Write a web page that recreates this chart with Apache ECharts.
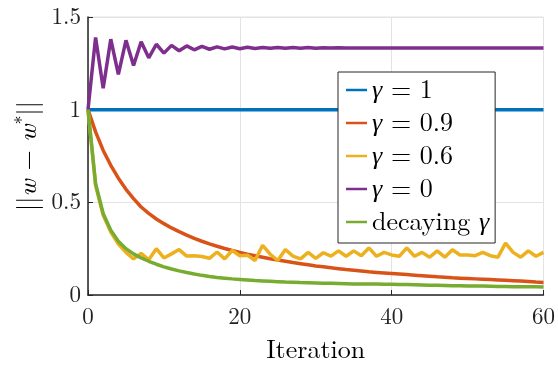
<!DOCTYPE html>
<html>
<head>
<meta charset="utf-8">
<script src="https://cdn.jsdelivr.net/npm/echarts@6/dist/echarts.min.js"></script>
<style>
  html, body { margin: 0; padding: 0; background: #fff; }
  #chart { width: 558px; height: 368px; }
</style>
</head>
<body>
<div id="chart"></div>
<script>
// legend labels (rich text, γ in italic)
const labels = ["{i|γ} = 1", "{i|γ} = 0.9", "{i|γ} = 0.6", "{i|γ} = 0", "decaying {i|γ}"];
const colors = ["#0072BD", "#D95319", "#EDB120", "#7E2F8E", "#77AC30"];

const xTicks = [0, 20, 40, 60];
const yTicks = [0, 0.5, 1, 1.5];

// values read per iteration 0..60
const gamma1 = [
  1, 1, 1, 1, 1, 1, 1, 1, 1, 1, 1, 1, 1, 1, 1, 1, 1, 1, 1, 1, 1,
  1, 1, 1, 1, 1, 1, 1, 1, 1, 1, 1, 1, 1, 1, 1, 1, 1, 1, 1, 1,
  1, 1, 1, 1, 1, 1, 1, 1, 1, 1, 1, 1, 1, 1, 1, 1, 1, 1, 1, 1
];
const gamma09 = [
  1, 0.88, 0.78, 0.70, 0.63, 0.57, 0.52, 0.475, 0.44, 0.41, 0.385,
  0.362, 0.342, 0.323, 0.305, 0.29, 0.276, 0.263, 0.251, 0.24, 0.23,
  0.22, 0.212, 0.204, 0.196, 0.189, 0.182, 0.175, 0.169, 0.163, 0.157,
  0.152, 0.147, 0.142, 0.137, 0.133, 0.129, 0.125, 0.122, 0.119, 0.116,
  0.113, 0.11, 0.107, 0.104, 0.101, 0.098, 0.096, 0.093, 0.091, 0.089,
  0.087, 0.085, 0.083, 0.081, 0.079, 0.077, 0.075, 0.073, 0.07, 0.068
];
const gamma06 = [
  1, 0.59, 0.43, 0.34, 0.275, 0.23, 0.195, 0.225, 0.19, 0.25, 0.2,
  0.222, 0.245, 0.21, 0.212, 0.208, 0.198, 0.232, 0.195, 0.24, 0.212,
  0.215, 0.186, 0.268, 0.22, 0.186, 0.245, 0.21, 0.195, 0.23, 0.198,
  0.228, 0.21, 0.238, 0.209, 0.238, 0.212, 0.254, 0.209, 0.23, 0.216,
  0.209, 0.254, 0.209, 0.23, 0.204, 0.238, 0.204, 0.244, 0.216, 0.216,
  0.212, 0.23, 0.212, 0.204, 0.28, 0.23, 0.204, 0.238, 0.209, 0.23
];
const gamma0 = [
  1, 1.39, 1.115, 1.38, 1.19, 1.374, 1.238, 1.366, 1.28, 1.353, 1.305,
  1.347, 1.318, 1.344, 1.323, 1.341, 1.326, 1.339, 1.328, 1.338, 1.329,
  1.337, 1.33, 1.336, 1.331, 1.336, 1.331, 1.335, 1.332, 1.335, 1.332,
  1.334, 1.333, 1.334, 1.333, 1.333, 1.333, 1.333, 1.333, 1.333, 1.333,
  1.333, 1.333, 1.333, 1.333, 1.333, 1.333, 1.333, 1.333, 1.333, 1.333,
  1.333, 1.333, 1.333, 1.333, 1.333, 1.333, 1.333, 1.333, 1.333, 1.333
];
const decaying = [
  1, 0.60, 0.44, 0.35, 0.29, 0.25, 0.222, 0.2, 0.182, 0.166, 0.152,
  0.14, 0.13, 0.121, 0.113, 0.106, 0.1, 0.095, 0.091, 0.087, 0.084,
  0.081, 0.078, 0.076, 0.074, 0.072, 0.07, 0.069, 0.067, 0.066, 0.065,
  0.064, 0.063, 0.062, 0.061, 0.06, 0.06, 0.059, 0.059, 0.058, 0.058,
  0.057, 0.056, 0.055, 0.054, 0.053, 0.052, 0.051, 0.05, 0.05, 0.049,
  0.048, 0.048, 0.047, 0.046, 0.046, 0.045, 0.045, 0.044, 0.044, 0.043
];

const allSeries = [gamma1, gamma09, gamma06, gamma0, decaying];

const FONT = "'Latin Modern Roman', 'Liberation Serif', serif";
const AXIS_DARK = "#262626";
const GRID_LIGHT = "#e3e3e3";
const italic = { fontStyle: "italic", fontFamily: FONT, fontSize: 26, color: "#000" };

const chart = echarts.init(document.getElementById("chart"), null, { renderer: "canvas" });

chart.setOption({
  animation: false,
  backgroundColor: "#fff",
  grid: {
    left: 88, right: 13, top: 17, bottom: 66,
    show: true, borderColor: GRID_LIGHT, borderWidth: 1,
  },
  xAxis: {
    type: "value",
    min: xTicks[0],
    max: xTicks[xTicks.length - 1],
    interval: 20,
    name: "Iteration",
    nameLocation: "middle",
    nameGap: 42,
    nameTextStyle: { fontFamily: FONT, fontSize: 26, color: "#000" },
    axisLine: { lineStyle: { color: AXIS_DARK, width: 1.5 } },
    axisTick: { inside: true, length: 5, lineStyle: { color: AXIS_DARK } },
    axisLabel: { fontFamily: FONT, fontSize: 23, color: "#222", margin: 10 },
    splitLine: { show: true, lineStyle: { color: GRID_LIGHT, width: 1 } },
  },
  yAxis: {
    type: "value",
    min: yTicks[0],
    max: yTicks[yTicks.length - 1],
    interval: 0.5,
    name: "||{i|w} − {i|w}{s|*}||",
    nameLocation: "middle",
    nameGap: 46,
    nameRotate: 90,
    nameTextStyle: {
      fontFamily: FONT, fontSize: 26, color: "#000",
      rich: {
        i: italic,
        s: { fontFamily: FONT, fontSize: 18, color: "#000", padding: [0, 0, 10, 0] },
      },
    },
    axisLine: { lineStyle: { color: AXIS_DARK, width: 1.5 } },
    axisTick: { inside: true, length: 5, lineStyle: { color: AXIS_DARK } },
    axisLabel: { fontFamily: FONT, fontSize: 23, color: "#222", margin: 7 },
    splitLine: { show: true, lineStyle: { color: GRID_LIGHT, width: 1 } },
  },
  legend: {
    orient: "vertical",
    left: 338,
    top: 72,
    padding: [5, 6, 8, 8],
    itemGap: 7,
    itemWidth: 21,
    itemHeight: 2.5,
    icon: "rect",
    backgroundColor: "#fff",
    borderColor: AXIS_DARK,
    borderWidth: 1,
    borderRadius: 0,
    textStyle: {
      fontFamily: FONT, fontSize: 26, color: "#000",
      rich: { i: italic },
    },
    data: labels,
  },
  series: allSeries.map((vals, k) => ({
    name: labels[k],
    type: "line",
    data: vals.map((v, i) => [i, v]),
    showSymbol: false,
    symbol: "none",
    color: colors[k],
    lineStyle: { width: 3.5, color: colors[k] },
    z: 2 + k,
  })),
});
</script>
</body>
</html>
